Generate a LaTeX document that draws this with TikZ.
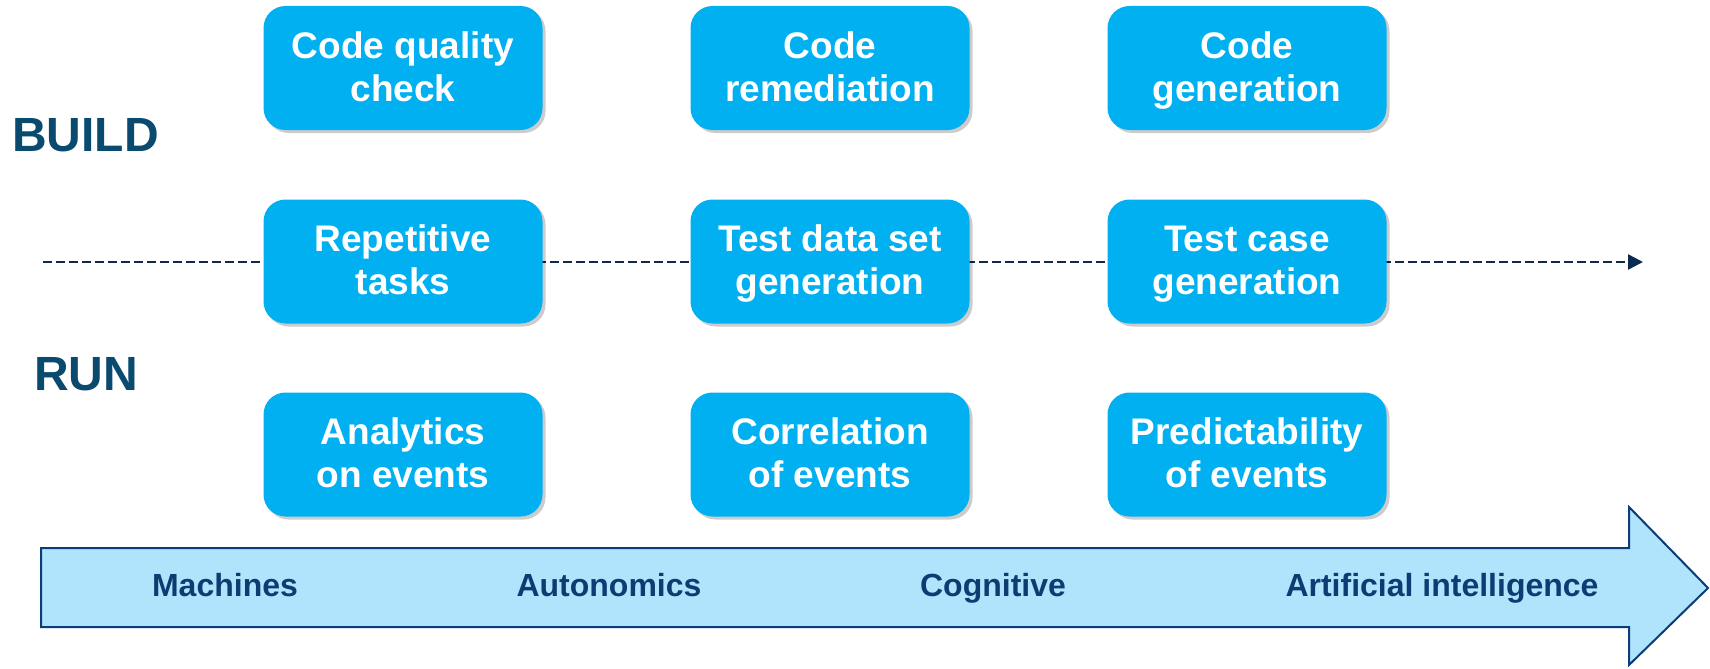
\documentclass[tikz,border=0pt]{standalone}
\usepackage{fontspec}
\setmainfont{Liberation Sans}
\usetikzlibrary{arrows.meta,shadows}
\definecolor{boxblue}{HTML}{00B0F0}
\definecolor{sidelbl}{HTML}{0B4A6F}
\definecolor{axisnavy}{HTML}{0A2A50}
\definecolor{arrowfill}{HTML}{B0E4FC}
\definecolor{arrowedge}{HTML}{0B3D78}
\definecolor{arrowtext}{HTML}{0B3D73}
\newcommand{\twolines}[2]{\rule[-12.9pt]{0pt}{48.8pt}#1\\\strut#2}
\tikzset{
  stagebox/.style={draw=none, fill=boxblue, rounded corners=22pt,
    minimum width=279pt, minimum height=124pt, inner sep=0pt,
    align=center, text=white,
    font=\fontsize{37}{43}\selectfont\bfseries,
    drop shadow={shadow xshift=3pt, shadow yshift=-3pt, opacity=0.2, fill=black}},
  sidelabel/.style={text=sidelbl, font=\fontsize{48}{56}\selectfont\bfseries, inner sep=0pt},
  axisline/.style={draw=axisnavy, line width=2.4pt, dash pattern=on 9pt off 4pt,
    -{Triangle[length=15pt,width=15pt]}},
  bigarrow/.style={draw=arrowedge, fill=arrowfill, line width=2pt, line join=miter},
  phaselabel/.style={text=arrowtext, font=\fontsize{32}{38}\selectfont\bfseries,
    inner sep=0pt, text height=23pt, text depth=7pt}
}
\begin{document}
\begin{tikzpicture}[x=1pt,y=-1pt]
\useasboundingbox (0,0) rectangle (1710,669);
% big arrow
\draw[bigarrow] (41,548) -- (1629,548) -- (1629,507) -- (1708,588) -- (1629,665) -- (1629,627) -- (41,627) -- cycle;
\node[phaselabel] (machines) at (225,588) {Machines};
\node[phaselabel] (autonomics) at (609,588) {Autonomics};
\node[phaselabel] (cognitive) at (993,588) {Cognitive};
\node[phaselabel] (ai) at (1442,588) {Artificial intelligence};
% dashed axis
\coordinate (axstart) at (43,262);
\coordinate (axend) at (1643,262);
\draw[axisline] (axstart) -- (axend);
% side labels
\node[sidelabel, anchor=west] (build) at (12,135) {BUILD};
\node[sidelabel, anchor=west] (run) at (34,374) {RUN};
% boxes
\node[stagebox] (cqc) at (403,68) {\twolines{Code quality}{check}};
\node[stagebox] (crem) at (830,68) {\twolines{Code}{remediation}};
\node[stagebox] (cgen) at (1247,68) {\twolines{Code}{generation}};
\node[stagebox] (rep) at (403,261.5) {\twolines{Repetitive}{tasks}};
\node[stagebox] (tds) at (830,261.5) {\twolines{Test data set}{generation}};
\node[stagebox] (tcg) at (1247,261.5) {\twolines{Test case}{generation}};
\node[stagebox] (aoe) at (403,454.5) {\twolines{Analytics}{on events}};
\node[stagebox] (coe) at (830,454.5) {\twolines{Correlation}{of events}};
\node[stagebox] (poe) at (1247,454.5) {\twolines{Predictability}{of events}};
\end{tikzpicture}
\end{document}
